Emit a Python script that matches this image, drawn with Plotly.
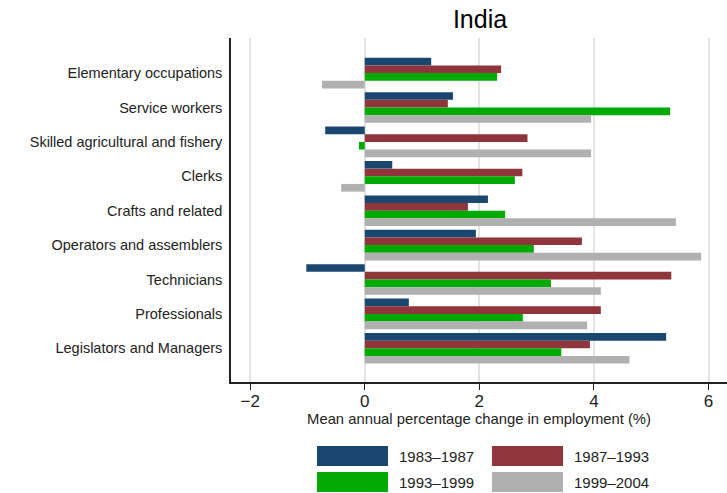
import plotly.graph_objects as go

# Occupation groups, top to bottom
occupations = [
    "Elementary occupations",
    "Service workers",
    "Skilled agricultural and fishery",
    "Clerks",
    "Crafts and related",
    "Operators and assemblers",
    "Technicians",
    "Professionals",
    "Legislators and Managers",
]

# Mean annual percentage change in employment (%) by period
p1983_1987 = [1.16, 1.54, -0.69, 0.48, 2.15, 1.94, -1.02, 0.77, 5.26]
p1987_1993 = [2.38, 1.45, 2.84, 2.75, 1.80, 3.79, 5.35, 4.12, 3.93]
p1993_1999 = [2.31, 5.33, -0.10, 2.62, 2.45, 2.95, 3.25, 2.76, 3.43]
p1999_2004 = [-0.745, 3.95, 3.95, -0.41, 5.43, 5.87, 4.12, 3.88, 4.62]

periods = ["1983\u20131987", "1987\u20131993", "1993\u20131999", "1999\u20132004"]
series = [p1983_1987, p1987_1993, p1993_1999, p1999_2004]
colors = ["#1a476f", "#90353b", "#00aa00", "#b0b0b0"]

x_ticks = [-2, 0, 2, 4, 6]
x_tick_labels = ["\u22122", "0", "2", "4", "6"]

FONT = "Liberation Sans, Arial, sans-serif"
W, H = 727, 493
L, R, T, B = 231, 0, 38, 111

fig = go.Figure()
for name, vals, col in zip(periods, series, colors):
    fig.add_trace(go.Bar(
        y=occupations, x=vals, name=name, orientation="h",
        marker=dict(color=col, line=dict(width=0)),
        showlegend=False,
    ))

# Legend drawn as large swatches below the axis (pixel layout -> paper coords)
plot_w = W - L - R
plot_h = H - T - B

def px_x(p):
    return (p - L) / plot_w

def px_y(p):
    return (H - B - p) / plot_h

legend_slots = [(317, 446), (492, 446), (317, 472), (492, 472)]
shapes = []
annotations = []
for (sx, sy), name, col in zip(legend_slots, periods, colors):
    shapes.append(dict(
        type="rect", xref="paper", yref="paper",
        x0=px_x(sx), x1=px_x(sx + 71), y0=px_y(sy + 20), y1=px_y(sy),
        fillcolor=col, line=dict(width=0),
    ))
    annotations.append(dict(
        xref="paper", yref="paper", x=px_x(sx + 80), y=px_y(sy + 10),
        text=name, showarrow=False, xanchor="left", yanchor="middle",
        font=dict(family=FONT, size=15, color="#222222"),
    ))

fig.update_layout(
    width=W, height=H,
    margin=dict(l=L, r=R, t=T, b=B),
    paper_bgcolor="white", plot_bgcolor="white",
    barmode="group", bargap=0.11, bargroupgap=0,
    title=dict(text="India", x=px_x(480), xref="paper", y=1 - 19 / H,
               yanchor="middle", xanchor="center",
               font=dict(family=FONT, size=25, color="black")),
    font=dict(family=FONT, color="#222222"),
    shapes=shapes, annotations=annotations,
    xaxis=dict(
        range=[-2.334, 6.322],
        tickvals=x_ticks, ticktext=x_tick_labels,
        showgrid=True, gridcolor="#e3e3e3", gridwidth=1.5,
        zeroline=False,
        showline=True, linecolor="#222222", linewidth=1.5,
        ticks="outside", ticklen=6, tickcolor="#222222", tickwidth=1.2,
        ticklabelstandoff=-3,
        tickfont=dict(family=FONT, size=17, color="#222222"),
        title=dict(text="Mean annual percentage change in employment (%)",
                   font=dict(family=FONT, size=14.8, color="#222222"),
                   standoff=3),
    ),
    yaxis=dict(
        categoryorder="array", categoryarray=occupations,
        range=[8.98, -1.02],
        showgrid=False, zeroline=False,
        showline=True, linecolor="#222222", linewidth=1.5,
        ticks="", ticklabelstandoff=4,
        tickfont=dict(family=FONT, size=14.5, color="#222222"),
    ),
)

fig.write_html("out.html")
